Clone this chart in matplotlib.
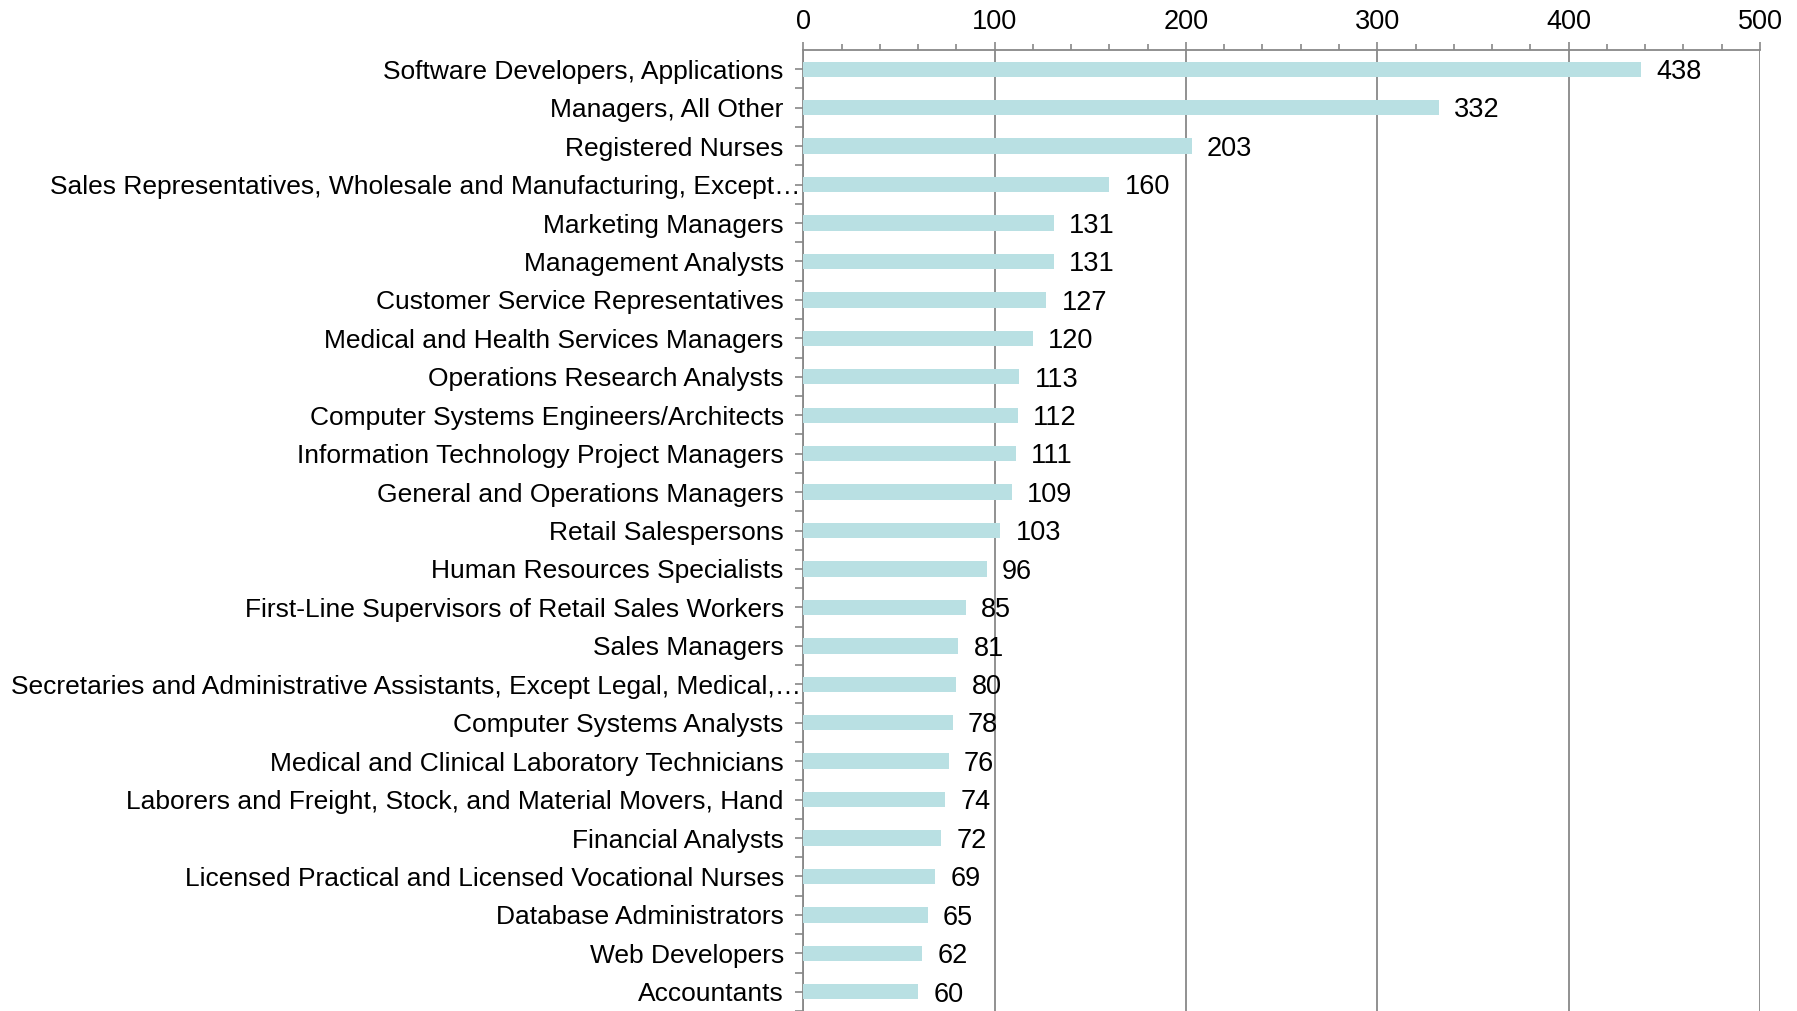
import matplotlib.pyplot as plt
import matplotlib.transforms as mtransforms
from matplotlib.ticker import MultipleLocator, FixedLocator

plt.rcParams['font.family'] = ['Liberation Sans', 'DejaVu Sans']

occupations = [
    'Software Developers, Applications',
    'Managers, All Other',
    'Registered Nurses',
    'Sales Representatives, Wholesale and Manufacturing, Except\u2026',
    'Marketing Managers',
    'Management Analysts',
    'Customer Service Representatives',
    'Medical and Health Services Managers',
    'Operations Research Analysts',
    'Computer Systems Engineers/Architects',
    'Information Technology Project Managers',
    'General and Operations Managers',
    'Retail Salespersons',
    'Human Resources Specialists',
    'First-Line Supervisors of Retail Sales Workers',
    'Sales Managers',
    'Secretaries and Administrative Assistants, Except Legal, Medical,\u2026',
    'Computer Systems Analysts',
    'Medical and Clinical Laboratory Technicians',
    'Laborers and Freight, Stock, and Material Movers, Hand',
    'Financial Analysts',
    'Licensed Practical and Licensed Vocational Nurses',
    'Database Administrators',
    'Web Developers',
    'Accountants',
]
counts = [438, 332, 203, 160, 131, 131, 127, 120, 113, 112, 111, 109, 103,
          96, 85, 81, 80, 78, 76, 74, 72, 69, 65, 62, 60]

fig = plt.figure(figsize=(17.97, 10.11), dpi=100)
ax = fig.add_axes([0.447, 0.0, 0.5324, 0.9505])

pos = list(range(len(occupations)))
ax.barh(pos, counts, height=0.4, color='#B9E0E3', zorder=3)

for y, v in zip(pos, counts):
    ax.annotate(str(v), (v, y), xytext=(11, -2), textcoords='offset points',
                ha='left', va='center', fontsize=19.5, color='black')

ax.set_xlim(0, 500)
ax.set_ylim(len(occupations) - 0.5, -0.5)

ax.xaxis.tick_top()
ax.xaxis.set_major_locator(MultipleLocator(100))
ax.xaxis.set_minor_locator(MultipleLocator(20))
ax.tick_params(axis='x', which='major', direction='out', length=6, width=1.2,
               color='#888888', labelsize=19.5, pad=5)
ax.tick_params(axis='x', which='minor', direction='out', length=4, width=1.2,
               color='#888888')

ax.set_yticks(pos)
ax.set_yticklabels(occupations)
ax.yaxis.set_minor_locator(FixedLocator([p + 0.5 for p in pos]))
ax.tick_params(axis='y', which='major', direction='inout', length=12, width=1.2,
               color='#888888', labelsize=19, pad=8)
ax.tick_params(axis='y', which='minor', direction='out', length=6, width=1.2,
               color='#888888')

# truncated labels run their ellipsis up to the axis line
shift = mtransforms.ScaledTranslation(0.17, 0, fig.dpi_scale_trans)
for lab in ax.get_yticklabels():
    if lab.get_text().endswith('\u2026'):
        lab.set_transform(lab.get_transform() + shift)

ax.grid(axis='x', which='major', color='#888888', linewidth=1.3, zorder=0)

for side in ['right', 'bottom']:
    ax.spines[side].set_visible(False)
for side in ['top', 'left']:
    ax.spines[side].set_color('#888888')
    ax.spines[side].set_linewidth(1.3)

fig.savefig('out.png', dpi=100)
